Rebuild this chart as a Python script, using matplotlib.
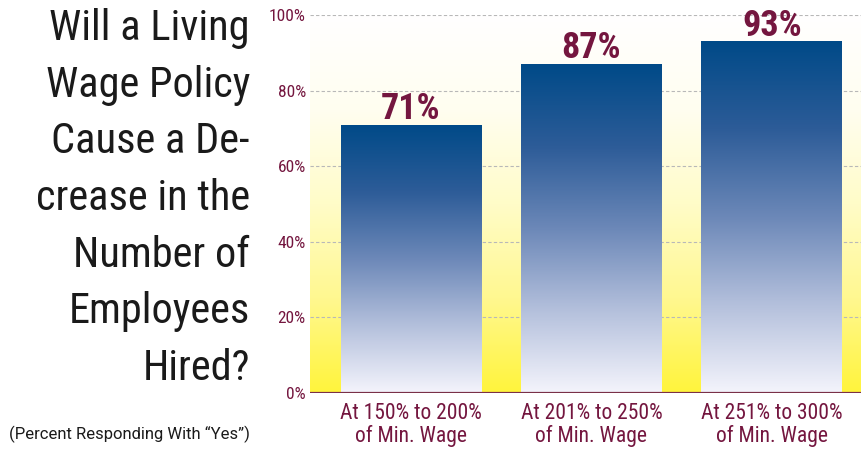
import numpy as np
import matplotlib
matplotlib.use("Agg")
import matplotlib.pyplot as plt
from matplotlib.colors import LinearSegmentedColormap

categories = ["At 150% to 200%\nof Min. Wage", "At 201% to 250%\nof Min. Wage", "At 251% to 300%\nof Min. Wage"]
values = [71, 87, 93]
value_labels = ["71%", "87%", "93%"]
yticks = [0, 20, 40, 60, 80, 100]
ytick_labels = ["0%", "20%", "40%", "60%", "80%", "100%"]
title_lines = ["Will a Living", "Wage Policy", "Cause a De-", "crease in the", "Number of", "Employees", "Hired?"]
subtitle = "(Percent Responding With \u201cYes\u201d)"

maroon = "#74163f"
narrow = ["Roboto Condensed", "Roboto", "DejaVu Sans"]

fig = plt.figure(figsize=(8.62, 4.5), dpi=100)
ax = fig.add_axes([310/862, 1-393/450, 552/862, 378/450])
xlim = (-0.56, 2.5)
ax.set_xlim(*xlim)
ax.set_ylim(0, 100)

# background gradient (white top -> yellow bottom)
bg_cmap = LinearSegmentedColormap.from_list("bg", ["#fff43c", "#fff890", "#fffcc8", "#fffef0", "#ffffff"])
grad = np.linspace(0, 1, 256).reshape(-1, 1)
ax.imshow(grad, aspect="auto", cmap=bg_cmap, origin="lower", extent=[xlim[0], xlim[1], 0, 100], zorder=0)

for y in yticks[1:]:
    ax.axhline(y, color="#b8b8b8", lw=0.8, ls=(0, (3, 2)), zorder=1)

bar_cmap = LinearSegmentedColormap.from_list("bar", ["#f4f4fc", "#b4c0dc", "#6c88b8", "#2d5c98", "#004a88"])
x = np.arange(len(values))
bars = ax.bar(x, values, width=0.78, color="none", edgecolor="none", zorder=2)
for b, v, lab in zip(bars, values, value_labels):
    x0, w = b.get_x(), b.get_width()
    im = ax.imshow(grad, aspect="auto", cmap=bar_cmap, origin="lower",
                   extent=[x0, x0 + w, 0, v], zorder=2)
    im.set_clip_path(b)
    ax.text(x0 + w/2, v + 1.5, lab, ha="center", va="baseline", color=maroon,
            fontsize=26, fontweight="bold", family=narrow)

ax.axhline(0, color="#7a3048", lw=1.6, zorder=3)
for s in ax.spines.values():
    s.set_visible(False)
ax.set_yticks(yticks)
ax.set_yticklabels(ytick_labels, color=maroon, fontsize=12.5, family=narrow)
ax.set_xticks(x)
ax.set_xticklabels(categories, color=maroon, fontsize=15.5, family=narrow, linespacing=1.05)
ax.tick_params(axis="both", length=0, pad=3)
ax.tick_params(axis="x", pad=7)

for i, line in enumerate(title_lines):
    fig.text(250/862, 1 - (40 + i*56.7)/450, line, ha="right", va="baseline",
             fontsize=30.5, family=["Roboto Condensed", "Roboto", "DejaVu Sans"],
             color="#1a1a1a")
fig.text(250/862, 1 - 439/450, subtitle, ha="right", va="baseline", fontsize=12,
         family=["Roboto", "DejaVu Sans"], color="#1a1a1a")

fig.savefig("out.png", dpi=100)
